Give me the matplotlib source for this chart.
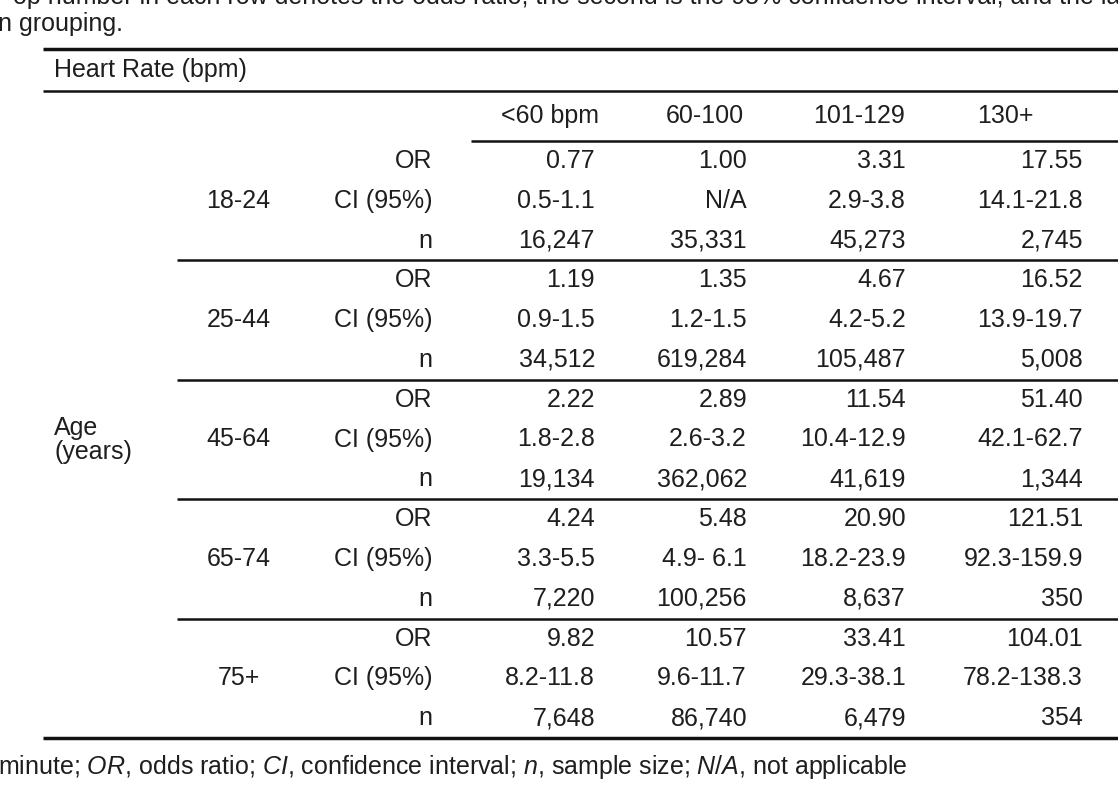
import matplotlib
matplotlib.use("Agg")
import matplotlib.pyplot as plt

plt.rcParams['font.family'] = ['Liberation Sans', 'DejaVu Sans']
plt.rcParams['mathtext.fontset'] = 'custom'
plt.rcParams['mathtext.rm'] = 'Liberation Sans'
plt.rcParams['mathtext.it'] = 'Liberation Sans:italic'

# table content
hr_cols = ['<60 bpm', '60-100', '101-129', '130+']
age_groups = ['18-24', '25-44', '45-64', '65-74', '75+']
stat_labels = ['OR', 'CI (95%)', 'n']

odds_ratio = [
    [0.77, 1.00, 3.31, 17.55],
    [1.19, 1.35, 4.67, 16.52],
    [2.22, 2.89, 11.54, 51.40],
    [4.24, 5.48, 20.90, 121.51],
    [9.82, 10.57, 33.41, 104.01],
]
conf_int = [
    ['0.5-1.1', 'N/A', '2.9-3.8', '14.1-21.8'],
    ['0.9-1.5', '1.2-1.5', '4.2-5.2', '13.9-19.7'],
    ['1.8-2.8', '2.6-3.2', '10.4-12.9', '42.1-62.7'],
    ['3.3-5.5', '4.9- 6.1', '18.2-23.9', '92.3-159.9'],
    ['8.2-11.8', '9.6-11.7', '29.3-38.1', '78.2-138.3'],
]
sample_n = [
    [16247, 35331, 45273, 2745],
    [34512, 619284, 105487, 5008],
    [19134, 362062, 41619, 1344],
    [7220, 100256, 8637, 350],
    [7648, 86740, 6479, 354],
]

caption_top = ['op number in each row denotes the odds ratio; the second is the 95% confidence interval, and the la',
               'n grouping.']
footer = r'minute; $\it{OR}$, odds ratio; $\it{CI}$, confidence interval; $\it{n}$, sample size; $\it{N/A}$, not applicable'

# layout (pixel units)
W, H = 1118, 786
col_edges = [43, 177, 300, 471, 629, 781, 937, 1118]
hdr_x = [550, 705, 859, 1005]
val_pad = [34, 34, 31, 35]
txt = '#1e1e1e'
ink = '#111111'
fs = 18

y_top = 49
y_hr = 91
y_hdr = 141
y_bot = 738
grp_h = (y_bot - y_hdr) / len(age_groups)
row_h = grp_h / 3

fig = plt.figure(figsize=(W / 100, H / 100), dpi=100)
ax = fig.add_axes([0, 0, 1, 1])
ax.set_xlim(0, W)
ax.set_ylim(H, 0)
ax.axis('off')

# caption above (first line clipped by the top edge)
ax.text(W + 2, 4, caption_top[0], fontsize=fs, color=txt, va='baseline', ha='right')
ax.text(-2, 31, caption_top[1], fontsize=fs, color=txt, va='baseline', ha='left')

# rules
ax.plot([col_edges[0], W], [y_top, y_top], color=ink, lw=2.5, solid_capstyle='butt')
ax.plot([col_edges[0], W], [y_hr, y_hr], color=ink, lw=1.8, solid_capstyle='butt')
ax.plot([col_edges[3], W], [y_hdr, y_hdr], color=ink, lw=1.8, solid_capstyle='butt')

ax.text(54, (y_top + y_hr) / 2, 'Heart Rate (bpm)', fontsize=fs, color=txt, va='center', ha='left')
for j, h in enumerate(hr_cols):
    ax.text(hdr_x[j], (y_hr + y_hdr) / 2, h, fontsize=fs, color=txt, va='center', ha='center')

for g, age in enumerate(age_groups):
    g0 = y_hdr + g * grp_h
    ys = [g0 + row_h * (k + 0.5) for k in range(3)]
    ax.text((col_edges[1] + col_edges[2]) / 2, ys[1], age, fontsize=fs, color=txt,
            va='center', ha='center')
    for k, lab in enumerate(stat_labels):
        ax.text(col_edges[3] - 39, ys[k], lab, fontsize=fs, color=txt, va='center', ha='right')
    for j in range(len(hr_cols)):
        xr = col_edges[4 + j] - val_pad[j]
        ax.text(xr, ys[0], f'{odds_ratio[g][j]:.2f}', fontsize=fs, color=txt, va='center', ha='right')
        ax.text(xr, ys[1], conf_int[g][j], fontsize=fs, color=txt, va='center', ha='right')
        ax.text(xr, ys[2], f'{sample_n[g][j]:,}', fontsize=fs, color=txt, va='center', ha='right')
    yl = g0 + grp_h
    if g < len(age_groups) - 1:
        ax.plot([col_edges[1], W], [yl, yl], color=ink, lw=1.8, solid_capstyle='butt')
    else:
        ax.plot([col_edges[0], W], [yl, yl], color=ink, lw=2.5, solid_capstyle='butt')

mid = y_hdr + 2.5 * grp_h
ax.text(54, mid, 'Age\n(years)', fontsize=fs, color=txt, va='center', ha='left', linespacing=1.0)

ax.text(-2, 774, footer, fontsize=fs, color=txt, va='baseline', ha='left')

fig.savefig('out.png', dpi=100)
